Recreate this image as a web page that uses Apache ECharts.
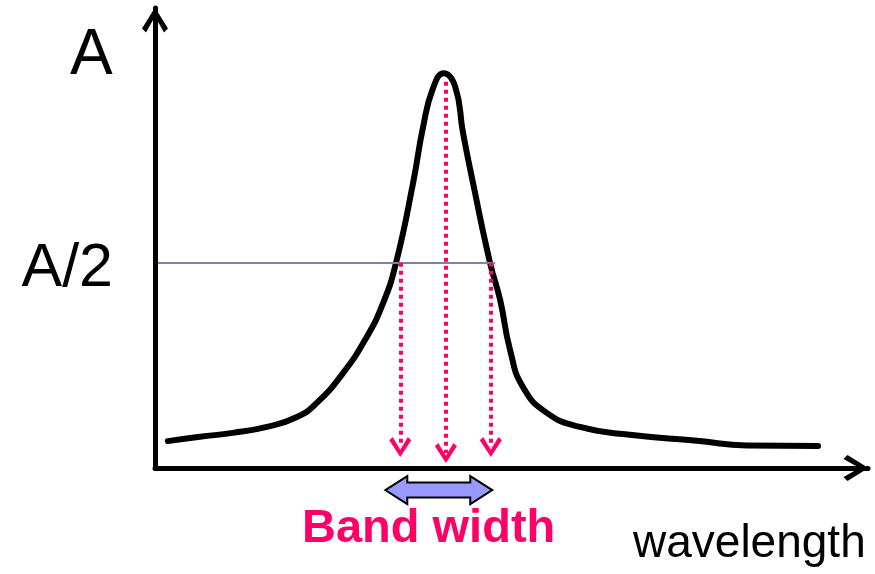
<!DOCTYPE html>
<html>
<head>
<meta charset="utf-8">
<style>
  html, body { margin: 0; padding: 0; background: #fff; }
  #chart { width: 875px; height: 574px; }
</style>
<script src="https://cdn.jsdelivr.net/npm/echarts@6/dist/echarts.min.js"></script>
</head>
<body>
<div id="chart"></div>
<script>
// ---- data (wavelength in arbitrary units 0..100, absorbance with peak A = 1) ----
const waveX = [1.8, 6.3, 10.9, 15.7, 19.9, 22.7, 26.4, 29.7, 32.0, 33.8, 36.2, 37.6, 39.0, 40.5,
               42.1, 43.2, 44.6, 47.0, 48.4, 49.8, 51.6, 55.0, 59.6, 66.6, 76.0, 83.0, 93.0];
const absorb = [0.068, 0.079, 0.089, 0.104, 0.129, 0.165, 0.241, 0.332, 0.418, 0.519, 0.722, 0.864, 0.962, 1.0,
                0.966, 0.849, 0.722, 0.519, 0.426, 0.299, 0.205, 0.139, 0.104, 0.084, 0.069, 0.057, 0.056];
const halfLevel = 0.52;            // A/2
const halfLineX = [0.4, 47.7];     // extent of the A/2 guide line
const dropX = [34.4, 40.8, 47.1];  // left edge, peak, right edge
const dropTop = [0.52, 0.978, 0.52];
const dropEnd = [0.053, 0.038, 0.053];
const bandArrow = [32.3, 47.3, -0.056]; // x start, x end, y level of band-width double arrow
const yLabels = ['A', 'A/2'];
const xName = 'wavelength';
const bandLabel = 'Band width';

const chevron = 'path://M13,0 L26,21 L22,25 L13,9 L4,25 L0,21 Z';
const pink = '#ff0066';
const font = '"Liberation Sans", Arial, sans-serif';

const curve = waveX.map((x, i) => [x, absorb[i]]);

const markData = [
  [{ coord: [halfLineX[0], halfLevel], lineStyle: { color: '#8080b0', width: 2, type: 'solid' }, symbol: 'none' },
   { coord: [halfLineX[1], halfLevel], symbol: 'none' }]
];
dropX.forEach((x, i) => {
  markData.push([
    { coord: [x, dropTop[i]], symbol: 'none' },
    { coord: [x, dropEnd[i]], symbol: chevron }
  ]);
});

const chart = echarts.init(document.getElementById('chart'), null, { renderer: 'canvas' });
chart.setOption({
  animation: false,
  backgroundColor: '#fff',
  grid: { left: 155, right: 7, top: 8, bottom: 106, containLabel: false, outerBoundsMode: 'none' },
  xAxis: {
    type: 'value', min: 0, max: 100,
    axisLine: { show: true, onZero: false, lineStyle: { color: '#000', width: 5 },
      symbol: ['none', chevron], symbolSize: [26, 25], symbolOffset: [0, -12] },
    axisTick: { show: false }, axisLabel: { show: false }, splitLine: { show: false }
  },
  yAxis: {
    type: 'value', min: 0, max: 1.165,
    axisLine: { show: true, onZero: false, lineStyle: { color: '#000', width: 5 },
      symbol: ['none', chevron], symbolSize: [26, 25], symbolOffset: [0, -12] },
    axisTick: { show: false }, axisLabel: { show: false }, splitLine: { show: false }
  },
  series: [
    {
      type: 'line', data: curve, smooth: 0.5, symbol: 'none', silent: true,
      lineStyle: { color: '#000', width: 6, join: 'round', cap: 'round' },
      z: 2
    },
    {
      type: 'line', data: [], silent: true, z: 3,
      markLine: {
        silent: true, animation: false,
        symbol: ['none', chevron], symbolSize: [22, 20],
        label: { show: false },
        emphasis: { disabled: true },
        lineStyle: { color: pink, width: 4, type: [4, 4] },
        data: markData
      }
    },
    {
      type: 'custom', silent: true, clip: false, z: 4,
      data: [bandArrow],
      renderItem: function (params, api) {
        const p1 = api.coord([api.value(0), api.value(2)]);
        const p2 = api.coord([api.value(1), api.value(2)]);
        const y = p1[1], x1 = p1[0], x2 = p2[0];
        const hl = 22, hh = 14, sh = 7.5;
        return {
          type: 'polygon',
          shape: { points: [
            [x1, y], [x1 + hl, y - hh], [x1 + hl, y - sh], [x2 - hl, y - sh], [x2 - hl, y - hh],
            [x2, y], [x2 - hl, y + hh], [x2 - hl, y + sh], [x1 + hl, y + sh], [x1 + hl, y + hh]
          ] },
          style: { fill: '#9999ff', stroke: '#000', lineWidth: 2, lineJoin: 'miter' }
        };
      }
    }
  ],
  graphic: [
    { type: 'text', x: 70, y: 56, style: { text: yLabels[0], font: '64px ' + font, fill: '#000', align: 'left', verticalAlign: 'middle' } },
    { type: 'text', x: 113, y: 269, style: { text: yLabels[1], font: '61px ' + font, fill: '#000', align: 'right', verticalAlign: 'middle' } },
    { type: 'text', x: 302, y: 529, style: { text: bandLabel, font: 'bold 47px ' + font, fill: pink, align: 'left', verticalAlign: 'middle' } },
    { type: 'text', x: 633, y: 544, style: { text: xName, font: '46px ' + font, fill: '#000', align: 'left', verticalAlign: 'middle' } }
  ]
});
</script>
</body>
</html>
